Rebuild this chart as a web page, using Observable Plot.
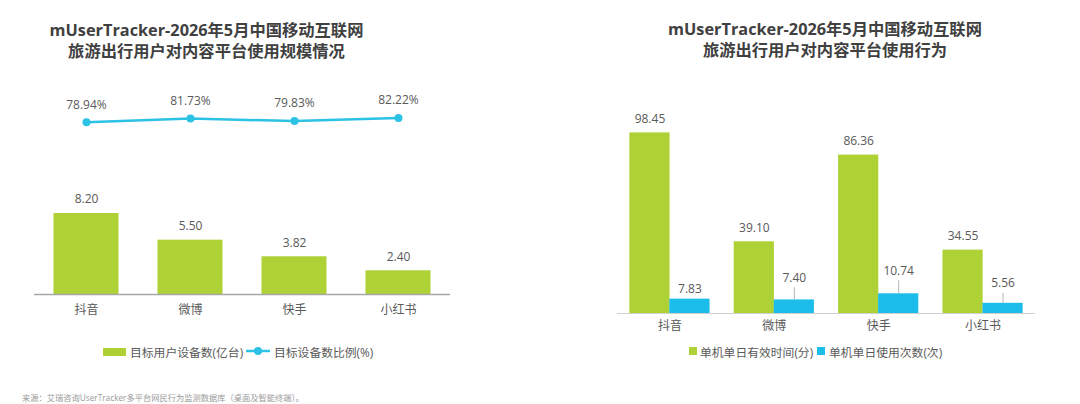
<!DOCTYPE html>
<html lang="zh">
<head>
<meta charset="utf-8">
<script src="https://cdn.jsdelivr.net/npm/d3@7"></script>
<script src="https://cdn.jsdelivr.net/npm/@observablehq/plot@0.6"></script>
<style>
  html, body { margin: 0; padding: 0; background: #fff; }
  #page { position: relative; width: 1080px; height: 404px; overflow: hidden; font-family: "Open Sans", "Noto Sans CJK SC", sans-serif; color: #595959; }
  #page svg { position: absolute; overflow: visible; background: transparent; }
  .title { position: absolute; text-align: center; font-weight: 700; font-size: 16.3px; line-height: 20px; color: #404040; white-space: nowrap; transform: translateX(-50%); }
  .title div:last-child { font-family: "Liberation Sans", "Noto Sans CJK SC", sans-serif; margin-top: 0.6px; }
  .lg { position: absolute; font-size: 11.8px; line-height: 16px; white-space: nowrap; }
  .sw { position: absolute; }
  .note { position: absolute; left: 22px; top: 392px; font-size: 8.25px; line-height: 12px; color: #9a9a9a; white-space: nowrap; }
</style>
</head>
<body>
<div id="page"></div>
<script>
const platforms = ["抖音", "微博", "快手", "小红书"];
const deviceCounts = [8.20, 5.50, 3.82, 2.40];
const deviceShares = [78.94, 81.73, 79.83, 82.22];
const dailyMinutes = [98.45, 39.10, 86.36, 34.55];
const dailySessions = [7.83, 7.40, 10.74, 5.56];
const sessionLabelAt = [7.83, 14.0, 17.8, 11.0];

const leftTitle = ["mUserTracker-2026年5月中国移动互联网", "旅游出行用户对内容平台使用规模情况"];
const rightTitle = ["mUserTracker-2026年5月中国移动互联网", "旅游出行用户对内容平台使用行为"];
const sourceNote = "来源：艾瑞咨询UserTracker多平台网民行为监测数据库（桌面及智能终端）。";

const GREEN = "#aed136", BLUE = "#1cbdea", LINE = "#2cc2e6", INK = "#595959";
const FONT = '"Open Sans", "Noto Sans CJK SC", sans-serif';
const page = document.getElementById("page");
const place = (svg, left, top) => { svg.style.left = left + "px"; svg.style.top = top + "px"; page.append(svg); };
const txt = (cls, html, css) => { const d = document.createElement("div"); d.className = cls; d.innerHTML = html; Object.assign(d.style, css); page.append(d); };
const base = { style: { fontFamily: FONT, fontSize: "12px", color: INK, background: "transparent" } };

const rows = platforms.map((p, i) => ({
  p, count: deviceCounts[i], share: deviceShares[i],
  minutes: dailyMinutes[i], sessions: dailySessions[i], at: sessionLabelAt[i]
}));

// Left: share line
place(Plot.plot({
  ...base, width: 540, height: 50, marginTop: 0, marginBottom: 0, marginLeft: 34, marginRight: 90,
  x: { domain: platforms, paddingInner: 0.375, paddingOuter: 0.1875, round: false, axis: null },
  y: { domain: [64.64, 103.7], axis: null },
  marks: [
    Plot.line(rows, { x: "p", y: "share", stroke: LINE, strokeWidth: 2.5 }),
    Plot.dot(rows, { x: "p", y: "share", r: 4, fill: LINE }),
    Plot.text(rows, { x: "p", y: "share", text: d => d.share.toFixed(2) + "%", dy: -17.5, fill: INK, fontSize: 12 })
  ]
}), 0, 90);

// Left: device bars
place(Plot.plot({
  ...base, width: 540, height: 140, marginTop: 0, marginBottom: 36, marginLeft: 34, marginRight: 90,
  x: { domain: platforms, paddingInner: 0.375, paddingOuter: 0.1875, round: false },
  y: { domain: [0, 10.53], axis: null },
  marks: [
    Plot.barY(rows, { x: "p", y: "count", fill: GREEN }),
    Plot.ruleY([0], { stroke: "#a6a6a6", strokeWidth: 1.5 }),
    Plot.text(rows, { x: "p", y: "count", text: d => d.count.toFixed(2), dy: -14, fill: INK, fontSize: 12 }),
    Plot.axisX({ tickSize: 0, tickPadding: 10.5, label: null, fontSize: 12, color: INK })
  ]
}), 0, 190);

// Right: behaviour bars
const offset = 20;
place(Plot.plot({
  ...base, width: 540, height: 240, marginTop: 0, marginBottom: 27, marginLeft: 77, marginRight: 45,
  x: { domain: platforms, paddingInner: 0.615, paddingOuter: 0.31, round: false },
  y: { domain: [0, 116.1], axis: null },
  marks: [
    Plot.barY(rows, { x: "p", y: "minutes", fill: GREEN, dx: -offset }),
    Plot.barY(rows, { x: "p", y: "sessions", fill: BLUE, dx: offset }),
    Plot.ruleY([0], { stroke: "#d0d0d0", strokeWidth: 1 }),
    Plot.ruleX(rows.filter(d => d.at > d.sessions), { x: "p", y1: "sessions", y2: "at", stroke: "#b5b5b5", strokeWidth: 1, dx: offset }),
    Plot.text(rows, { x: "p", y: "minutes", text: d => d.minutes.toFixed(2), dx: -offset, dy: -14, fill: INK, fontSize: 12 }),
    Plot.text(rows, { x: "p", y: "at", text: d => d.sessions.toFixed(2), dx: offset, dy: -10, fill: INK, fontSize: 12 }),
    Plot.axisX({ tickSize: 0, tickPadding: 7.5, label: null, fontSize: 12, color: INK })
  ]
}), 540, 100);

// Titles
const titleHtml = lines => lines.map(l => `<div>${l}</div>`).join("");
txt("title", titleHtml(leftTitle), { left: "206.5px", top: "20px" });
txt("title", titleHtml(rightTitle), { left: "825px", top: "19px" });

// Left legend
txt("sw", "", { left: "103px", top: "348px", width: "23px", height: "8px", background: GREEN });
txt("lg", "目标用户设备数(亿台)", { left: "130px", top: "344px" });
const legendLine = d3.create("svg").attr("width", 24).attr("height", 10).style("left", "246px").style("top", "346px");
legendLine.append("line").attr("x1", 0).attr("x2", 24).attr("y1", 5).attr("y2", 5).attr("stroke", LINE).attr("stroke-width", 2.5);
legendLine.append("circle").attr("cx", 12).attr("cy", 5).attr("r", 4).attr("fill", LINE);
page.append(legendLine.node());
txt("lg", "目标设备数比例(%)", { left: "274px", top: "344px" });

// Right legend
txt("sw", "", { left: "689px", top: "347px", width: "8px", height: "8px", background: GREEN });
txt("lg", "单机单日有效时间(分)", { left: "700px", top: "344px" });
txt("sw", "", { left: "817px", top: "347px", width: "8px", height: "8px", background: BLUE });
txt("lg", "单机单日使用次数(次)", { left: "829px", top: "344px" });

txt("note", sourceNote, {});
</script>
</body>
</html>
